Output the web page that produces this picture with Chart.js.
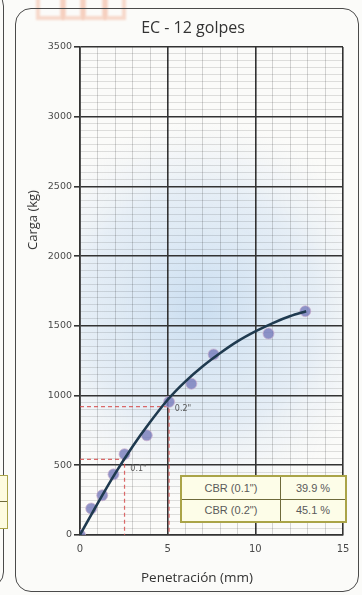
<!DOCTYPE html>
<html lang="es">
<head>
<meta charset="UTF-8">
<title>EC - 12 golpes</title>
<script src="https://cdn.jsdelivr.net/npm/chart.js"></script>
<style>
  body { margin: 0; background: #fbfbf9; }
  #wrap { position: relative; width: 362px; height: 595px; overflow: hidden; font-family: "Open Sans", sans-serif; }
  #chart { position: absolute; left: 0; top: 0; }
  .marco { position: absolute; border: 1.5px solid #4a4a4a; border-radius: 16px; }
  .titulo { position: absolute; color: #333; white-space: nowrap; }
  .marca { position: absolute; border: 4px solid #f4c1ab; opacity: .6; filter: blur(1px); }
  table.cbr { position: absolute; left: 180px; top: 475px; width: 167px; height: 48px; border-collapse: collapse;
              background: #fdfde8; border: 2px solid #aaa448; font-family: "Liberation Sans", Arial, sans-serif; font-size: 11px; color: #5a5a5a; }
  table.cbr td { border: 1.5px solid #6e6a3a; text-align: center; padding: 0; }
</style>
</head>
<body>
<div id="wrap">
  <!-- borde del gráfico vecino y su tabla -->
  <div class="marco" style="left:-30px; top:-10px; width:32px; height:596px;"></div>
  <div style="position:absolute; left:-6px; top:475px; width:12px; height:52px; border:1.5px solid #aaa448; background:#fdfbe0;"></div>
  <div style="position:absolute; left:-6px; top:501px; width:13px; border-top:1.5px solid #6e6a3a;"></div>
  <!-- sello naranja en la esquina -->
  <div class="marca" style="left:36px; top:-6px; width:20px; height:18px;"></div>
  <div class="marca" style="left:62px; top:-6px; width:14px; height:18px;"></div>
  <div class="marca" style="left:82px; top:-6px; width:16px; height:18px;"></div>
  <div class="marca" style="left:104px; top:-6px; width:14px; height:18px;"></div>
  <div class="marco" style="left:15px; top:8px; width:342px; height:582px;"></div>

  <canvas id="chart" width="362" height="595"></canvas>

  <div class="titulo" style="left:193px; top:27px; transform:translate(-50%,-50%); font-size:16px;">EC - 12 golpes</div>
  <div class="titulo" style="left:197px; top:577px; transform:translate(-50%,-50%); font-size:13.5px;">Penetración (mm)</div>
  <div class="titulo" style="left:32px; top:220px; transform:translate(-50%,-50%) rotate(-90deg); font-size:13px;">Carga (kg)</div>

  <table class="cbr">
    <tr><td style="width:98px">CBR (0.1")</td><td id="cbr1"></td></tr>
    <tr><td>CBR (0.2")</td><td id="cbr2"></td></tr>
  </table>
</div>

<script>
// ensayo de penetración
const penetracion = [0, 0.64, 1.27, 1.91, 2.54, 3.81, 5.08, 6.35, 7.62, 10.75, 12.85];
const carga = [0, 190, 285, 435, 580, 715, 955, 1085, 1295, 1445, 1605];

// curva de ajuste
const curvaX = [0, 1, 2, 3, 4, 5, 6, 7, 8, 9, 10, 11, 12, 12.9];
const curvaY = [0, 225, 440, 635, 810, 970, 1100, 1210, 1305, 1390, 1460, 1520, 1570, 1605];

// CBR a 0.1" y 0.2"
const etiquetasCbr = ['0.1"', '0.2"'];
const penetracionCbr = [2.54, 5.08];
const cargaPatron = [1360, 2040];
const cbr = [39.9, 45.1];
const cargaCbr = cbr.map((v, i) => v / 100 * cargaPatron[i]);

document.getElementById('cbr1').textContent = cbr[0].toFixed(1) + ' %';
document.getElementById('cbr2').textContent = cbr[1].toFixed(1) + ' %';

const punteada = i => ({
  data: [{ x: 0, y: cargaCbr[i] }, { x: penetracionCbr[i], y: cargaCbr[i] }, { x: penetracionCbr[i], y: 0 }],
  showLine: true, borderColor: 'rgba(214,80,80,0.85)', borderWidth: 1.2, borderDash: [4, 3],
  pointRadius: 0, order: 2
});

// fondo azulado al centro del área
const fondo = {
  id: 'fondo',
  beforeDraw(chart) {
    const { ctx, chartArea: a } = chart;
    const g = ctx.createRadialGradient(200, 310, 10, 200, 310, 190);
    g.addColorStop(0, 'rgba(170,203,236,0.55)');
    g.addColorStop(0.6, 'rgba(190,214,240,0.35)');
    g.addColorStop(1, 'rgba(220,230,245,0)');
    ctx.save();
    ctx.fillStyle = g;
    ctx.fillRect(a.left, a.top, a.right - a.left, a.bottom - a.top);
    ctx.restore();
  }
};

// rótulos 0.1" y 0.2" junto a las líneas punteadas
const rotulos = {
  id: 'rotulos',
  afterDatasetsDraw(chart) {
    const { ctx, scales: { x, y } } = chart;
    const desp = [[14, 10], [14, 2]];
    ctx.save();
    ctx.font = '8px "DejaVu Sans"';
    ctx.fillStyle = '#555';
    ctx.textAlign = 'center';
    ctx.textBaseline = 'middle';
    etiquetasCbr.forEach((t, i) => {
      ctx.fillText(t, x.getPixelForValue(penetracionCbr[i]) + desp[i][0], y.getPixelForValue(cargaCbr[i]) + desp[i][1]);
    });
    ctx.restore();
  }
};

const pasos = (min, max, paso) => {
  const t = [];
  for (let v = min; v <= max + 1e-9; v += paso) t.push({ value: Math.round(v * 100) / 100 });
  return t;
};

// líneas menores translúcidas para que no aclaren las principales al cruzarlas
const mayorX = c => c.tick && c.tick.value % 5 === 0;
const mayorY = c => c.tick && c.tick.value % 500 === 0;

new Chart(document.getElementById('chart'), {
  type: 'scatter',
  data: {
    datasets: [
      {
        data: curvaX.map((v, i) => ({ x: v, y: curvaY[i] })),
        showLine: true, borderColor: '#1f3a4f', borderWidth: 2.6, pointRadius: 0,
        cubicInterpolationMode: 'monotone', order: 0
      },
      {
        data: penetracion.map((v, i) => ({ x: v, y: carga[i] })),
        pointRadius: 5.5, pointBackgroundColor: 'rgba(118,122,186,0.8)',
        pointBorderColor: 'rgba(205,175,205,0.7)', pointBorderWidth: 1, order: 1
      },
      punteada(0),
      punteada(1)
    ]
  },
  options: {
    responsive: false,
    animation: false,
    layout: { padding: { left: 0, right: 19, top: 47, bottom: 0 } },
    plugins: { legend: { display: false }, tooltip: { enabled: false } },
    scales: {
      x: {
        type: 'linear', min: 0, max: 15,
        afterBuildTicks: s => { s.ticks = pasos(0, 15, 1); },
        afterFit: s => { s.height = 60; },
        ticks: {
          autoSkip: false, maxRotation: 0, padding: 8, color: '#4a4a4a',
          font: { family: 'DejaVu Sans', size: 10 },
          callback: v => (v % 5 === 0 ? v : '')
        },
        grid: {
          drawTicks: false,
          color: c => (mayorX(c) ? '#333' : 'rgba(0,0,0,0.2)'),
          lineWidth: c => (mayorX(c) ? 1.6 : 0.8)
        },
        border: { color: '#333', width: 1.6 }
      },
      y: {
        type: 'linear', min: 0, max: 3500,
        afterBuildTicks: s => { s.ticks = pasos(0, 3500, 50); },
        afterFit: s => { s.width = 80; },
        ticks: {
          autoSkip: false, padding: 2, color: '#4a4a4a',
          font: { family: 'DejaVu Sans', size: 9.5 },
          callback: v => (v % 500 === 0 ? v : '')
        },
        grid: {
          tickLength: 6,
          color: c => (mayorY(c) ? '#333' : 'rgba(0,0,0,0.17)'),
          tickColor: c => (mayorY(c) ? '#333' : 'rgba(0,0,0,0)'),
          lineWidth: c => (mayorY(c) ? 1.6 : 0.7)
        },
        border: { color: '#333', width: 1.6 }
      }
    }
  },
  plugins: [fondo, rotulos]
});
</script>
</body>
</html>
